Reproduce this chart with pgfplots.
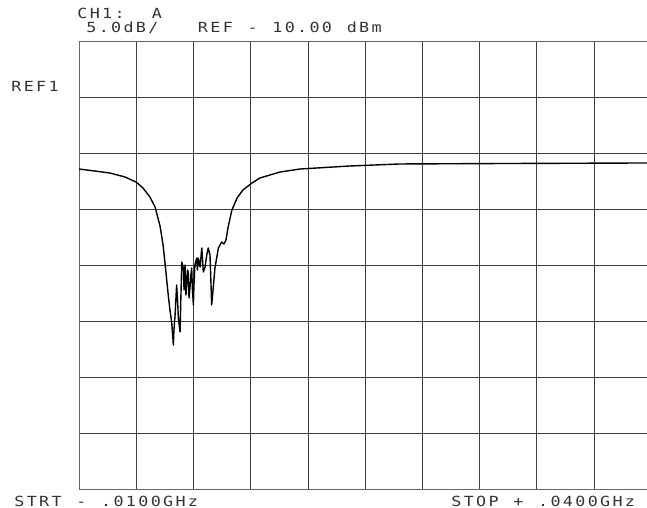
\documentclass[border=0pt]{standalone}
\usepackage{pgfplots}
\pgfplotsset{compat=1.18}
\usepackage{graphicx}
\usepackage{fontspec}
\newfontfamily\plotfont{DejaVu Sans Mono}
\makeatletter
\newcommand\plt[1]{\@tfor\c:=#1\do{\makebox[12.4bp][c]{\scalebox{1.2}[1]{\c}}}}
\makeatother
\begin{document}
\begin{tikzpicture}
\path[use as bounding box] (-79bp,-19bp) rectangle (568bp,489bp);
\begin{axis}[
  at={(0,0)}, anchor=south west,
  scale only axis, width=572bp, height=448bp,
  xmin=10, xmax=40, ymin=-45, ymax=-5,
  xtick={10,13,...,40}, ytick={-45,-40,...,-5},
  xticklabels={}, yticklabels={},
  major tick length=0pt,
  grid=major,
  grid style={black!75, line width=0.6pt},
  axis line style={black!60, line width=0.8pt},
  clip=false,
]
\addplot[black, line width=1.4pt, line join=round] coordinates {
(10.00,-16.43) (10.84,-16.61) (11.63,-16.79) (12.41,-17.14) (12.99,-17.59)
(13.36,-18.13) (13.72,-18.93) (13.99,-19.82) (14.25,-21.52) (14.41,-23.21)
(14.51,-24.82) (14.68,-27.68) (14.77,-29.02) (14.86,-30.09) (14.95,-32.14)
(14.98,-30.80) (15.04,-29.46) (15.12,-26.79) (15.17,-28.13) (15.21,-29.73)
(15.30,-30.98) (15.34,-28.13) (15.39,-24.73) (15.47,-25.27) (15.51,-27.23)
(15.56,-25.00) (15.61,-27.68) (15.65,-26.79) (15.69,-25.45) (15.73,-25.63)
(15.77,-27.95) (15.82,-27.05) (15.87,-25.89) (15.91,-25.27) (15.95,-27.23)
(16.00,-28.57) (16.03,-26.79) (16.08,-25.00) (16.17,-24.38) (16.21,-25.45)
(16.26,-24.38) (16.35,-25.18) (16.44,-23.48) (16.52,-25.63) (16.61,-25.18)
(16.70,-24.11) (16.78,-23.48) (16.87,-24.11) (16.96,-28.57) (17.04,-27.05)
(17.13,-25.27) (17.22,-24.38) (17.31,-23.48) (17.48,-22.95) (17.60,-23.13)
(17.71,-22.77) (17.81,-21.70) (18.02,-20.09) (18.29,-19.02) (18.60,-18.30)
(19.07,-17.68) (19.49,-17.23) (20.54,-16.70) (21.59,-16.43) (24.21,-16.16)
(26.84,-15.98) (32.08,-15.94) (40.00,-15.89)
};
\end{axis}
\begin{scope}[every node/.style={inner sep=0pt, text=black!80, font=\plotfont\fontsize{14}{15}\selectfont}]
\node[anchor=base west] at (-3bp,470bp) {\plt{CH1:~~A}};
\node[anchor=base west] at (6bp,456bp) {\plt{5.0dB/~~~REF~-~10.00~dBm}};
\node[anchor=base west] at (-69bp,397bp) {\plt{REF1}};
\node[anchor=base west] at (-66bp,-17bp) {\plt{STRT~-~.0100GHz}};
\node[anchor=base west] at (371bp,-17bp) {\plt{STOP~+~.0400GHz}};
\end{scope}
\end{tikzpicture}
\end{document}
